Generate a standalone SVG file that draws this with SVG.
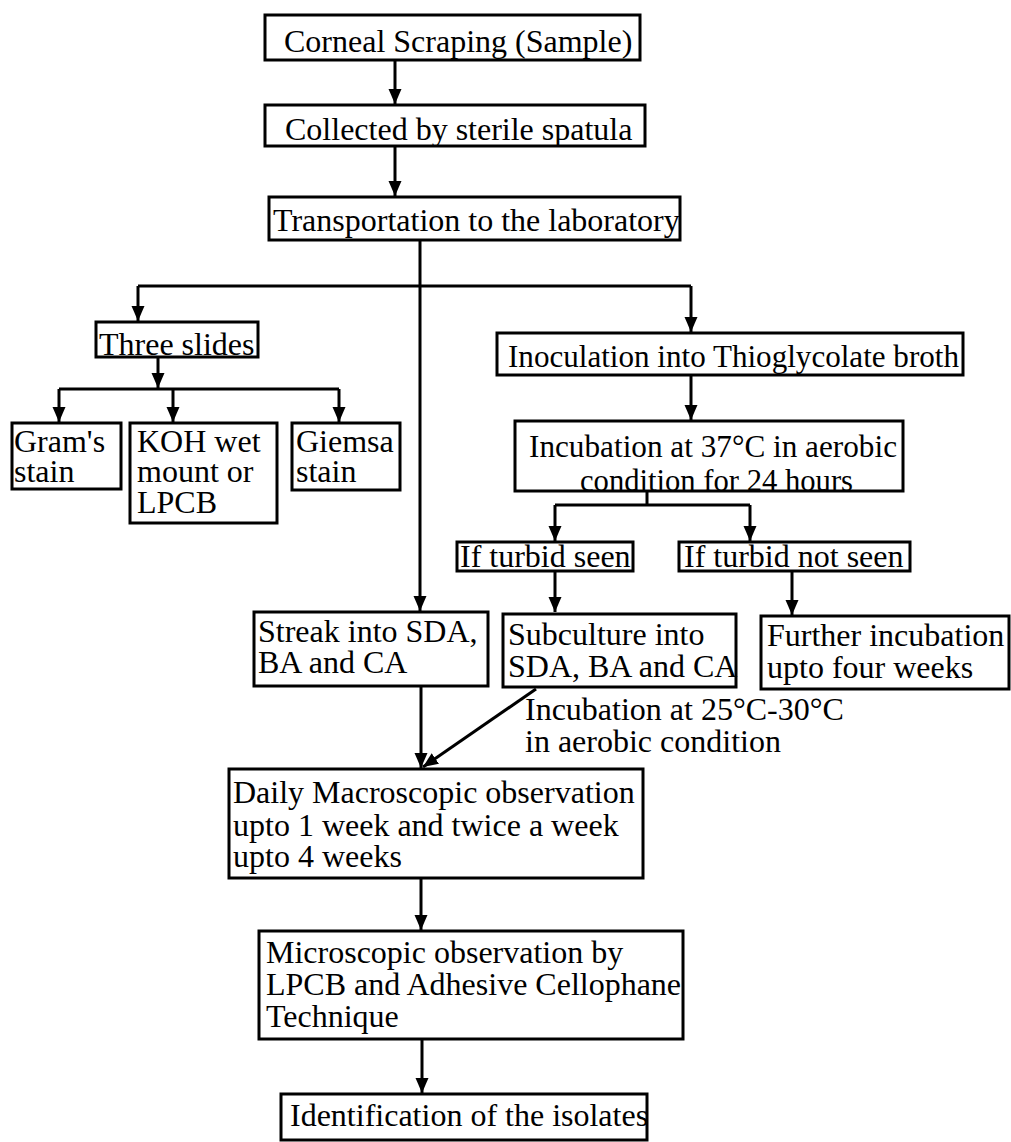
<svg xmlns="http://www.w3.org/2000/svg" width="1011" height="1142" viewBox="0 0 1011 1142">
<style>
.box{fill:#fff;stroke:#000;stroke-width:3}
text{font-family:'Liberation Serif','DejaVu Serif',serif;font-size:32px;fill:#000}
.c{fill:none;stroke:#000;stroke-width:3}
</style>
<defs>
<marker id="ah" markerUnits="userSpaceOnUse" markerWidth="16" markerHeight="14" refX="15" refY="6.5" orient="auto">
<path d="M0,0 L15,6.5 L0,13 z" fill="#000"/>
</marker>
</defs>
<rect width="1011" height="1142" fill="#fff"/>
<g id="connectors">
<line class="c" x1="395" y1="60" x2="395" y2="104" marker-end="url(#ah)"/>
<line class="c" x1="395" y1="146" x2="395" y2="196" marker-end="url(#ah)"/>
<polyline class="c" points="420,240 420,286"/>
<polyline class="c" points="138,286 691,286"/>
<line class="c" x1="138" y1="286" x2="138" y2="321" marker-end="url(#ah)"/>
<line class="c" x1="691" y1="286" x2="691" y2="332" marker-end="url(#ah)"/>
<line class="c" x1="420" y1="286" x2="420" y2="611" marker-end="url(#ah)"/>
<line class="c" x1="158" y1="357" x2="158" y2="388" marker-end="url(#ah)"/>
<polyline class="c" points="59,389 339,389"/>
<line class="c" x1="59" y1="389" x2="59" y2="422" marker-end="url(#ah)"/>
<line class="c" x1="173" y1="389" x2="173" y2="422" marker-end="url(#ah)"/>
<line class="c" x1="339" y1="389" x2="339" y2="422" marker-end="url(#ah)"/>
<line class="c" x1="691" y1="375" x2="691" y2="420" marker-end="url(#ah)"/>
<polyline class="c" points="647,491 647,505"/>
<polyline class="c" points="555,505 750,505"/>
<line class="c" x1="555" y1="505" x2="555" y2="541" marker-end="url(#ah)"/>
<line class="c" x1="750" y1="505" x2="750" y2="541" marker-end="url(#ah)"/>
<line class="c" x1="555" y1="571" x2="555" y2="612" marker-end="url(#ah)"/>
<line class="c" x1="792" y1="571" x2="792" y2="615" marker-end="url(#ah)"/>
<line class="c" x1="421" y1="686" x2="421" y2="768" marker-end="url(#ah)"/>
<line class="c" x1="536" y1="689" x2="423" y2="767" marker-end="url(#ah)"/>
<line class="c" x1="421" y1="878" x2="421" y2="930" marker-end="url(#ah)"/>
<line class="c" x1="422" y1="1039" x2="422" y2="1093" marker-end="url(#ah)"/>
</g>
<g id="n1"><rect class="box" x="265" y="15" width="375" height="45"/><text x="284" y="52">Corneal Scraping (Sample)</text></g>
<g id="n2"><rect class="box" x="265" y="105" width="380" height="41"/><text x="285" y="140">Collected by sterile spatula</text></g>
<g id="n3"><rect class="box" x="269" y="197" width="411" height="43"/><text x="273" y="231">Transportation to the laboratory</text></g>
<g id="n4"><rect class="box" x="96" y="322" width="162" height="35"/><text x="99" y="355">Three slides</text></g>
<g id="n5"><rect class="box" x="12" y="423" width="109" height="66"/><text x="14" y="452">Gram's</text><text x="14" y="482">stain</text></g>
<g id="n6"><rect class="box" x="130" y="423" width="147" height="100"/><text x="137" y="452">KOH wet</text><text x="137" y="482">mount or</text><text x="137" y="513">LPCB</text></g>
<g id="n7"><rect class="box" x="292" y="423" width="108" height="67"/><text x="296" y="452">Giemsa</text><text x="296" y="482">stain</text></g>
<g id="n8"><rect class="box" x="497" y="333" width="466" height="42"/><text x="508" y="367" textLength="451" lengthAdjust="spacingAndGlyphs">Inoculation into Thioglycolate broth</text></g>
<g id="n9"><rect class="box" x="515" y="421" width="388" height="70"/><text x="529" y="457" textLength="368" lengthAdjust="spacingAndGlyphs">Incubation at 37°C in aerobic</text><text x="580" y="491" textLength="273" lengthAdjust="spacingAndGlyphs">condition for 24 hours</text></g>
<g id="n10"><rect class="box" x="457" y="542" width="176" height="29"/><text x="460" y="567">If turbid seen</text></g>
<g id="n11"><rect class="box" x="679" y="542" width="231" height="29"/><text x="684" y="567">If turbid not seen</text></g>
<g id="n12"><rect class="box" x="254" y="612" width="234" height="74"/><text x="258" y="642">Streak into SDA,</text><text x="258" y="673">BA and CA</text></g>
<g id="n13"><rect class="box" x="503" y="614" width="233" height="73"/><text x="508" y="645">Subculture into</text><text x="508" y="677">SDA, BA and CA</text></g>
<g id="n14"><rect class="box" x="761" y="616" width="248" height="73"/><text x="767" y="646">Further incubation</text><text x="767" y="678">upto four weeks</text></g>
<g id="label"><text x="525" y="720">Incubation at 25°C-30°C</text><text x="525" y="752">in aerobic condition</text></g>
<g id="n15"><rect class="box" x="229" y="769" width="414" height="109"/><text x="233" y="803">Daily Macroscopic observation</text><text x="233" y="836">upto 1 week and twice a week</text><text x="233" y="867">upto 4 weeks</text></g>
<g id="n16"><rect class="box" x="259" y="931" width="424" height="108"/><text x="266" y="963">Microscopic observation by</text><text x="266" y="995">LPCB and Adhesive Cellophane</text><text x="266" y="1027">Technique</text></g>
<g id="n17"><rect class="box" x="281" y="1094" width="366" height="46"/><text x="290" y="1126">Identification of the isolates</text></g>
</svg>
